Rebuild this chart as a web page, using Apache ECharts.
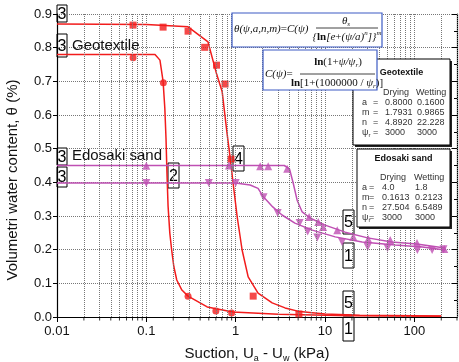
<!DOCTYPE html>
<html>
<head>
<meta charset="utf-8">
<script src="https://cdn.jsdelivr.net/npm/echarts@6/dist/echarts.min.js"></script>
<style>
  html, body { margin: 0; padding: 0; background: #fff; }
  #chart { width: 459px; height: 362px; }
</style>
</head>
<body>
<div id="chart"></div>
<script>
// Geotextile - fitted curves (red)
const geoDryFitX = [0.01, 0.1, 0.293, 0.49, 0.614, 0.705, 0.80, 0.865, 0.935, 1.04, 1.18, 1.38, 1.78, 2.56, 3.57, 5.2, 10, 24.5, 200];
const geoDryFitY = [0.87, 0.869, 0.862, 0.817, 0.72, 0.67, 0.546, 0.475, 0.398, 0.297, 0.199, 0.119, 0.071, 0.042, 0.027, 0.016, 0.009, 0.005, 0.003];
const geoWetFitX = [0.01, 0.125, 0.142, 0.154, 0.161, 0.166, 0.170, 0.175, 0.183, 0.192, 0.203, 0.219, 0.25, 0.293, 0.48, 0.93, 3, 19, 200];
const geoWetFitY = [0.78, 0.78, 0.763, 0.70, 0.62, 0.53, 0.43, 0.33, 0.25, 0.199, 0.15, 0.11, 0.08, 0.062, 0.03, 0.015, 0.008, 0.004, 0.002];

// Geotextile - measured
const geoDryPtsX = [0.071, 0.154, 0.293, 0.45, 0.61, 0.76, 0.887, 1.57, 5.1];
const geoDryPtsY = [0.867, 0.861, 0.849, 0.801, 0.748, 0.692, 0.469, 0.062, 0.009];
const geoWetPtsX = [0.071, 0.155, 0.293, 0.60, 0.90];
const geoWetPtsY = [0.77, 0.696, 0.062, 0.018, 0.012];

// Edosaki sand - fitted curves (purple)
const sandDryFitX = [0.01, 3.5, 4.0, 4.4, 4.87, 5.55, 6.8, 10, 16.8, 30, 56, 106, 220];
const sandDryFitY = [0.45, 0.45, 0.44, 0.398, 0.347, 0.312, 0.294, 0.273, 0.252, 0.235, 0.223, 0.217, 0.205];
const sandWetFitX = [0.01, 1.0, 1.45, 1.78, 2.04, 2.6, 3.3, 4.6, 7.2, 13, 26, 61, 123, 220];
const sandWetFitY = [0.398, 0.398, 0.392, 0.382, 0.357, 0.327, 0.303, 0.279, 0.258, 0.238, 0.223, 0.214, 0.208, 0.199];

// Edosaki sand - measured
const sandDryPtsX = [0.1, 0.84, 1.88, 2.31, 3.77, 6.64, 8.4, 9.5, 13.7, 20.7, 30.4, 53.7, 107, 216];
const sandDryPtsY = [0.449, 0.45, 0.448, 0.448, 0.44, 0.297, 0.282, 0.267, 0.258, 0.238, 0.232, 0.229, 0.22, 0.202];
const sandWetPtsX = [0.1, 0.5, 1.0, 2.05, 2.95, 5.2, 6.4, 8.2, 15.5, 30, 50, 108, 158, 212];
const sandWetPtsY = [0.398, 0.398, 0.398, 0.356, 0.309, 0.279, 0.254, 0.236, 0.223, 0.208, 0.205, 0.199, 0.199, 0.201];

// fit parameter tables
const paramNames = ['a', 'm', 'n', 'ψ{s|r}'];
const geoDryParams = ['0.8000', '1.7931', '4.8920', '3000'];
const geoWetParams = ['0.1600', '0.9865', '22.228', '3000'];
const sandDryParams = ['4.0', '0.1613', '27.504', '3000'];
const sandWetParams = ['1.8', '0.2123', '6.5489', '3000'];

const RED = '#f21c1c';
const PURPLE = '#bf4fb3';
const SANS = '"Liberation Sans", Arial, sans-serif';
const SERIF = '"Liberation Serif", "Times New Roman", serif';

const zip = (xs, ys) => xs.map((x, i) => [x, ys[i]]);

// minor log positions for the dotted vertical grid
const minorX = [];
[0.01, 0.1, 1, 10, 100].forEach(d => {
  for (let k = 2; k <= 9; k++) if (d * k <= 300) minorX.push(+(d * k).toPrecision(3));
});

const fitLine = (name, xs, ys, color) => ({
  name, type: 'line', data: zip(xs, ys), showSymbol: false, symbol: 'none',
  lineStyle: { color, width: 1.5 }, z: 3, silent: true
});
const pts = (name, xs, ys, color, symbol, size, rot) => ({
  name, type: 'scatter', data: zip(xs, ys), symbol, symbolSize: size,
  symbolRotate: rot || 0, itemStyle: { color }, z: 4, silent: true
});

// little boxed line labels
const tag = (x, y, w, h, t) => ({
  type: 'group', x, y, z: 20, children: [
    { type: 'rect', shape: { x: 0, y: 0, width: w, height: h },
      style: { fill: '#fff', stroke: '#000', lineWidth: 1 } },
    { type: 'text', x: w / 2, y: h / 2 + 1,
      style: { text: t, font: '16px ' + SANS, fill: '#000', align: 'center', verticalAlign: 'middle' } }
  ]
});

const txt = (x, y, text, font, align, extra) => ({
  type: 'text', x, y, z: 22,
  style: Object.assign({ text, font, fill: '#111', align: align || 'left', verticalAlign: 'middle' }, extra || {})
});

// o: offsets {title, head, row0, name, eq, dry, wet}
const tableBox = (x, y, w, h, title, dry, wet, o) => {
  const f = '9px ' + SANS;
  const grey = { fill: '#333' };
  const els = [
    { type: 'rect', x: x + 2, y: y + 2, z: 16, shape: { x: 0, y: 0, width: w, height: h }, style: { fill: '#222' } },
    { type: 'rect', x, y, z: 17, shape: { x: 0, y: 0, width: w, height: h }, style: { fill: '#fff', stroke: '#000', lineWidth: 1 } },
    txt(x + w / 2, y + o.title, title, 'bold 9px ' + SANS, 'center'),
    txt(x + o.dry - 2, y + o.head, 'Drying', f, 'left', grey),
    txt(x + o.wet, y + o.head, 'Wetting', f, 'left', grey)
  ];
  paramNames.forEach((p, i) => {
    const yy = y + o.row0 + i * 10;
    els.push(txt(x + o.name, yy, p, f, 'left', { fill: '#333', rich: { s: { fontSize: 6, fill: '#333', padding: [5, 0, 0, 0] } } }));
    els.push(txt(x + o.eq, yy, '=', f, 'left', grey));
    els.push(txt(x + o.dry, yy, dry[i], f, 'left', grey));
    els.push(txt(x + o.wet + 1, yy, wet[i], f, 'left', grey));
  });
  return els;
};

const eqRich = {
  s: { fontSize: 7, fontFamily: SERIF, fontStyle: 'italic', fill: '#111', padding: [6, 0, 0, 0] },
  u: { fontSize: 7, fontFamily: SERIF, fontStyle: 'italic', fill: '#111', padding: [0, 0, 7, 0] },
  b: { fontSize: 11, fontFamily: SERIF, fontWeight: 'bold', fill: '#111' },
  r: { fontSize: 11, fontFamily: SERIF, fill: '#111' }
};
const eq = (x, y, text, align) => txt(x, y, text, 'italic 11px ' + SERIF, align || 'left', { rich: eqRich });

const graphics = [
  // y axis title
  { type: 'text', x: 13, y: 180, rotation: Math.PI / 2, z: 10,
    style: { text: 'Volumetri water content, θ (%)', font: '15px ' + SANS, fill: '#111', align: 'center', verticalAlign: 'middle' } },
  // equation boxes
  { type: 'rect', x: 232, y: 13, z: 19, shape: { x: 0, y: 0, width: 150, height: 34 }, style: { fill: '#fff', stroke: '#3d5bc4', lineWidth: 1.2 } },
  eq(234, 29, 'θ(ψ,a,n,m){r|=}C(ψ)'),
  eq(346, 21, 'θ{s|s}', 'center'),
  { type: 'line', z: 22, shape: { x1: 316, y1: 28, x2: 378, y2: 28 }, style: { stroke: '#111', lineWidth: 0.8 } },
  eq(347, 37, '{{b|ln}[e{r|+}(ψ/a){u|n}]}{u|m}', 'center'),
  { type: 'rect', x: 263, y: 50, z: 19, shape: { x: 0, y: 0, width: 114, height: 40 }, style: { fill: '#fff', stroke: '#3d5bc4', lineWidth: 1.2 } },
  eq(265, 74, 'C(ψ){r|=}'),
  eq(338, 62, '{b|ln}{r|(1+}ψ/ψ{s|r}{r|)}', 'center'),
  { type: 'line', z: 22, shape: { x1: 300, y1: 74, x2: 375, y2: 74 }, style: { stroke: '#111', lineWidth: 0.8 } },
  eq(337, 83, '{b|ln}{r|[1+(1000000 /} ψ{s|r}{r|)]}', 'center'),
  // legend-like texts
  txt(72, 46, 'Geotextile', '15px ' + SANS),
  txt(72, 156, 'Edosaki sand', '15px ' + SANS),
  // boxed line labels
  tag(57, 5, 10, 17, '3'),
  tag(57, 34, 10, 23, '3'),
  tag(57, 148, 10, 17, '3'),
  tag(57, 167, 10, 20, '3'),
  tag(168, 163, 11, 25, '2'),
  tag(233, 146, 11, 25, '4'),
  tag(343, 210, 11, 24, '5'),
  tag(343, 243, 11, 25, '1'),
  tag(343, 291, 11, 24, '5'),
  tag(343, 317, 11, 24, '1')
].concat(
  tableBox(353, 59, 97, 86, 'Geotextile', geoDryParams, geoWetParams,
    { title: 14, head: 34, row0: 44, name: 9, eq: 20, dry: 32, wet: 63 }),
  tableBox(357, 149, 93, 78, 'Edosaki sand', sandDryParams, sandWetParams,
    { title: 10, head: 29, row0: 39, name: 5, eq: 12, dry: 25, wet: 57 })
);

const chart = echarts.init(document.getElementById('chart'));
chart.setOption({
  animation: false,
  backgroundColor: '#fff',
  grid: { left: 57, right: 2, top: 14, bottom: 45, containLabel: false, outerBoundsMode: 'none' },
  xAxis: [{
    type: 'log', logBase: 10, min: 0.01, max: 300,
    name: 'Suction, U{s|a} - U{s|w} (kPa)', nameLocation: 'middle', nameGap: 28,
    nameTextStyle: { fontFamily: SANS, fontSize: 15, color: '#111',
      rich: { s: { fontFamily: SANS, fontSize: 9, color: '#111', padding: [9, 0, 0, 0] } } },
    axisLine: { lineStyle: { color: '#000', width: 1.2 } },
    axisTick: { show: true, length: 5, lineStyle: { color: '#000' } },
    axisLabel: {
      fontFamily: SANS, fontSize: 13, color: '#111', margin: 8, showMaxLabel: false,
      formatter: v => {
        const l = Math.log10(v);
        return Math.abs(l - Math.round(l)) > 1e-6 ? '' : String(+v.toPrecision(6));
      }
    },
    splitLine: { show: true, lineStyle: { color: '#777', type: 'dotted', width: 1 } }
  }, {
    type: 'log', logBase: 10, min: 0.01, max: 300, position: 'top',
    axisLine: { lineStyle: { color: '#000', width: 1.2 } },
    axisTick: { show: false }, axisLabel: { show: false }, splitLine: { show: false }
  }],
  yAxis: [{
    type: 'value', min: 0, max: 0.9, interval: 0.1,
    axisLine: { show: true, lineStyle: { color: '#000', width: 1.2 } },
    axisTick: { show: true, length: 4, lineStyle: { color: '#000' } },
    axisLabel: { fontFamily: SANS, fontSize: 13, color: '#111', margin: 5, formatter: v => v.toFixed(1) },
    splitLine: { show: true, lineStyle: { color: '#777', type: 'dotted', width: 1 } }
  }, {
    type: 'value', min: 0, max: 0.9, interval: 0.1, position: 'right',
    axisLine: { show: true, lineStyle: { color: '#000', width: 1.2 } },
    axisTick: { show: true, inside: true, length: 5, lineStyle: { color: '#000' } },
    minorTick: { show: true, splitNumber: 2, length: 3, lineStyle: { color: '#000' } },
    axisLabel: { show: false }, splitLine: { show: false }
  }],
  series: [
    {
      name: 'grid-minor', type: 'scatter', silent: true, z: 1,
      data: minorX.map(x => [x, 0]),
      symbol: 'rect', symbolSize: [1, 3], symbolOffset: [0, 2], itemStyle: { color: '#000' },
      markLine: {
        silent: true, symbol: 'none', label: { show: false },
        lineStyle: { color: '#777', type: 'dotted', width: 1 },
        data: minorX.map(x => ({ xAxis: x }))
      }
    },
    fitLine('Geotextile drying fit', geoDryFitX, geoDryFitY, RED),
    fitLine('Geotextile wetting fit', geoWetFitX, geoWetFitY, RED),
    fitLine('Edosaki drying fit', sandDryFitX, sandDryFitY, PURPLE),
    fitLine('Edosaki wetting fit', sandWetFitX, sandWetFitY, PURPLE),
    pts('Geotextile drying', geoDryPtsX, geoDryPtsY, RED, 'rect', 7),
    pts('Geotextile wetting', geoWetPtsX, geoWetPtsY, RED, 'circle', 7),
    pts('Edosaki drying', sandDryPtsX, sandDryPtsY, PURPLE, 'triangle', 8),
    pts('Edosaki wetting', sandWetPtsX, sandWetPtsY, PURPLE, 'triangle', 8, 180)
  ],
  graphic: graphics
});
</script>
</body>
</html>
